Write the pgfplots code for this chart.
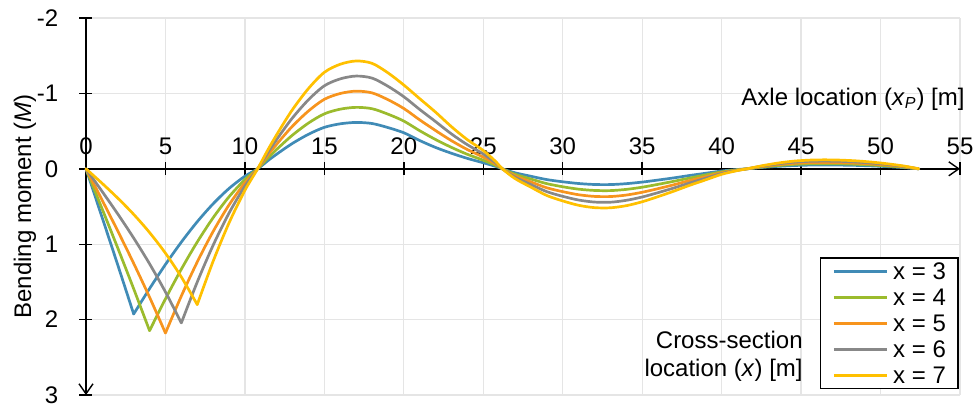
\documentclass[border=0pt]{standalone}
\usepackage{fontspec}
\setmainfont{Liberation Sans}
\usepackage{pgfplots}
\pgfplotsset{compat=1.18}
\usetikzlibrary{arrows.meta}
\definecolor{cblue}{RGB}{64,139,182}
\definecolor{cgreen}{RGB}{155,187,45}
\definecolor{corange}{RGB}{247,148,29}
\definecolor{cgray}{RGB}{136,136,136}
\definecolor{cyellow}{RGB}{255,192,0}
\begin{document}
\fontsize{12}{14}\selectfont
\begin{tikzpicture}[font=\fontsize{12}{14}\selectfont]
\begin{axis}[
  scale only axis, width=437pt, height=188.5pt,
  xmin=0, xmax=55, ymin=-2, ymax=3, y dir=reverse,
  clip=false,
  axis lines=middle,
  axis line style={line width=0.7pt, -{Straight Barb[length=5pt,width=7pt]}},
  xtick={0,5,...,55}, ytick={-2,-1,0,1,2,3},
  xticklabels={0,5,10,15,20,25,30,35,40,45,50,55},
  yticklabels={-2,-1,0,1,2,3},
  hide obscured x ticks=false, hide obscured y ticks=false,
  tick align=center, major tick length=6.5pt,
  tick style={black, line width=0.7pt},
  grid=major, grid style={line width=0.6pt, color=gray!20},
  xticklabel style={anchor=south, yshift=6pt},
  yticklabel style={anchor=east, xshift=-6.5pt},
  every axis plot/.append style={line width=1.35pt, line cap=round, line join=round, no marks},
  legend style={at={(0.9985,0.366)}, anchor=north east, draw=black, line width=0.8pt,
    fill=white, inner xsep=6pt, inner ysep=2.4pt, row sep=4.4pt, column sep=2.5pt,
    nodes={inner sep=0pt, text height=8.6pt, text depth=0pt}},
  legend cell align=left,
  legend image code/.code={\draw[#1, line cap=butt] (0pt,0pt) -- (26.5pt,0pt);},
]
% x = 3
\addplot[cblue, smooth, forget plot] coordinates {(0,0) (1,0.636) (2,1.276) (3,1.926)};
\addplot[cblue, smooth] coordinates {(3,1.926) (4,1.589) (5,1.269) (6,0.972) (7,0.702) (8,0.464) (9,0.261) (10,0.098) (10.8,0) (11.5,-0.117) (12.2,-0.224) (13,-0.338) (14,-0.458) (15,-0.550) (16,-0.597) (17,-0.615) (18,-0.601) (19,-0.547) (20,-0.478) (21,-0.375) (22,-0.283) (23,-0.206) (24,-0.138) (25,-0.080) (25.8,-0.031) (26.2,0) (27,0.053) (28,0.099) (29,0.143) (30,0.172) (31,0.195) (32,0.208) (33,0.209) (34,0.197) (35,0.176) (36,0.149) (37,0.120) (38,0.088) (39,0.059) (40,0.029) (41,0.009) (41.6,0) (42.5,-0.017) (43.5,-0.032) (44.5,-0.043) (45.5,-0.049) (46.5,-0.051) (47.5,-0.049) (48.5,-0.045) (49.5,-0.038) (50.5,-0.028) (51.5,-0.015) (52.4,0)};
\addlegendentry{x = 3}
% x = 4
\addplot[cgreen, smooth, forget plot] coordinates {(0,0) (1,0.523) (2,1.051) (3,1.591) (4,2.147)};
\addplot[cgreen, smooth] coordinates {(4,2.147) (5,1.725) (6,1.331) (7,0.971) (8,0.649) (9,0.371) (10,0.143) (10.8,0) (11.5,-0.155) (12.2,-0.297) (13,-0.448) (14,-0.607) (15,-0.729) (16,-0.791) (17,-0.815) (18,-0.797) (19,-0.725) (20,-0.633) (21,-0.505) (22,-0.388) (23,-0.284) (24,-0.192) (25,-0.114) (25.8,-0.044) (26.2,0) (27,0.0725) (28,0.136) (29,0.197) (30,0.238) (31,0.270) (32,0.287) (33,0.289) (34,0.273) (35,0.244) (36,0.206) (37,0.165) (38,0.122) (39,0.081) (40,0.041) (41,0.013) (41.6,0) (42.5,-0.022) (43.5,-0.043) (44.5,-0.058) (45.5,-0.066) (46.5,-0.068) (47.5,-0.066) (48.5,-0.060) (49.5,-0.050) (50.5,-0.037) (51.5,-0.020) (52.4,0)};
\addlegendentry{x = 4}
% x = 5
\addplot[corange, smooth, forget plot] coordinates {(0,0) (1,0.409) (2,0.825) (3,1.254) (4,1.703) (5,2.178)};
\addplot[corange, smooth] coordinates {(5,2.178) (6,1.687) (7,1.236) (8,0.831) (9,0.479) (10,0.186) (10.8,0) (11.5,-0.196) (12.2,-0.376) (13,-0.567) (14,-0.767) (15,-0.922) (16,-0.999) (17,-1.03) (18,-1.007) (19,-0.917) (20,-0.800) (21,-0.649) (22,-0.507) (23,-0.373) (24,-0.255) (25,-0.155) (25.8,-0.059) (26.2,0) (27,0.0925) (28,0.174) (29,0.252) (30,0.303) (31,0.344) (32,0.366) (33,0.368) (34,0.348) (35,0.311) (36,0.263) (37,0.211) (38,0.155) (39,0.104) (40,0.052) (41,0.017) (41.6,0) (42.5,-0.028) (43.5,-0.054) (44.5,-0.072) (45.5,-0.082) (46.5,-0.085) (47.5,-0.082) (48.5,-0.075) (49.5,-0.063) (50.5,-0.047) (51.5,-0.026) (52.4,0)};
\addlegendentry{x = 5}
% x = 6
\addplot[cgray, smooth, forget plot] coordinates {(0,0) (1,0.296) (2,0.599) (3,0.918) (4,1.260) (5,1.633) (6,2.044)};
\addplot[cgray, smooth] coordinates {(6,2.044) (7,1.502) (8,1.014) (9,0.588) (10,0.230) (10.8,0) (11.5,-0.234) (12.2,-0.449) (13,-0.677) (14,-0.916) (15,-1.101) (16,-1.193) (17,-1.23) (18,-1.203) (19,-1.095) (20,-0.956) (21,-0.787) (22,-0.626) (23,-0.462) (24,-0.319) (25,-0.197) (25.8,-0.075) (26.2,0) (27,0.111) (28,0.209) (29,0.303) (30,0.365) (31,0.414) (32,0.441) (33,0.443) (34,0.418) (35,0.374) (36,0.316) (37,0.254) (38,0.187) (39,0.125) (40,0.062) (41,0.020) (41.6,0) (42.5,-0.034) (43.5,-0.064) (44.5,-0.087) (45.5,-0.099) (46.5,-0.102) (47.5,-0.099) (48.5,-0.090) (49.5,-0.075) (50.5,-0.056) (51.5,-0.031) (52.4,0)};
\addlegendentry{x = 6}
% x = 7
\addplot[cyellow, smooth, forget plot] coordinates {(0,0) (1,0.190) (2,0.389) (3,0.604) (4,0.845) (5,1.119) (6,1.435) (7,1.801)};
\addplot[cyellow, smooth] coordinates {(7,1.801) (8,1.226) (9,0.718) (10,0.286) (10.8,0) (11.5,-0.272) (12.2,-0.522) (13,-0.787) (14,-1.065) (15,-1.280) (16,-1.387) (17,-1.43) (18,-1.399) (19,-1.273) (20,-1.111) (21,-0.930) (22,-0.751) (23,-0.558) (24,-0.386) (25,-0.243) (25.8,-0.093) (26.2,0) (27,0.13) (28,0.244) (29,0.354) (30,0.426) (31,0.484) (32,0.515) (33,0.517) (34,0.489) (35,0.437) (36,0.369) (37,0.296) (38,0.218) (39,0.146) (40,0.073) (41,0.023) (41.6,0) (42.5,-0.039) (43.5,-0.075) (44.5,-0.101) (45.5,-0.115) (46.5,-0.119) (47.5,-0.115) (48.5,-0.105) (49.5,-0.088) (50.5,-0.065) (51.5,-0.036) (52.4,0)};
\addlegendentry{x = 7}
\node[anchor=east, inner sep=0pt] at (axis description cs:1.0057,0.785) {Axle location (\textit{x}\textsubscript{\textit{P}}) [m]};
\node[anchor=east, align=right, inner sep=0pt] at (axis description cs:0.8204,0.1016) {Cross-section\\location (\textit{x}) [m]};
\node[rotate=90, inner sep=0pt] at (axis description cs:-0.0698,0.5) {Bending moment (\textit{M})};
\end{axis}
\pgfresetboundingbox
\path[use as bounding box] ([xshift=-43pt,yshift=-4pt]current axis.south west) rectangle ([xshift=7pt,yshift=9pt]current axis.north east);
\end{tikzpicture}
\end{document}
